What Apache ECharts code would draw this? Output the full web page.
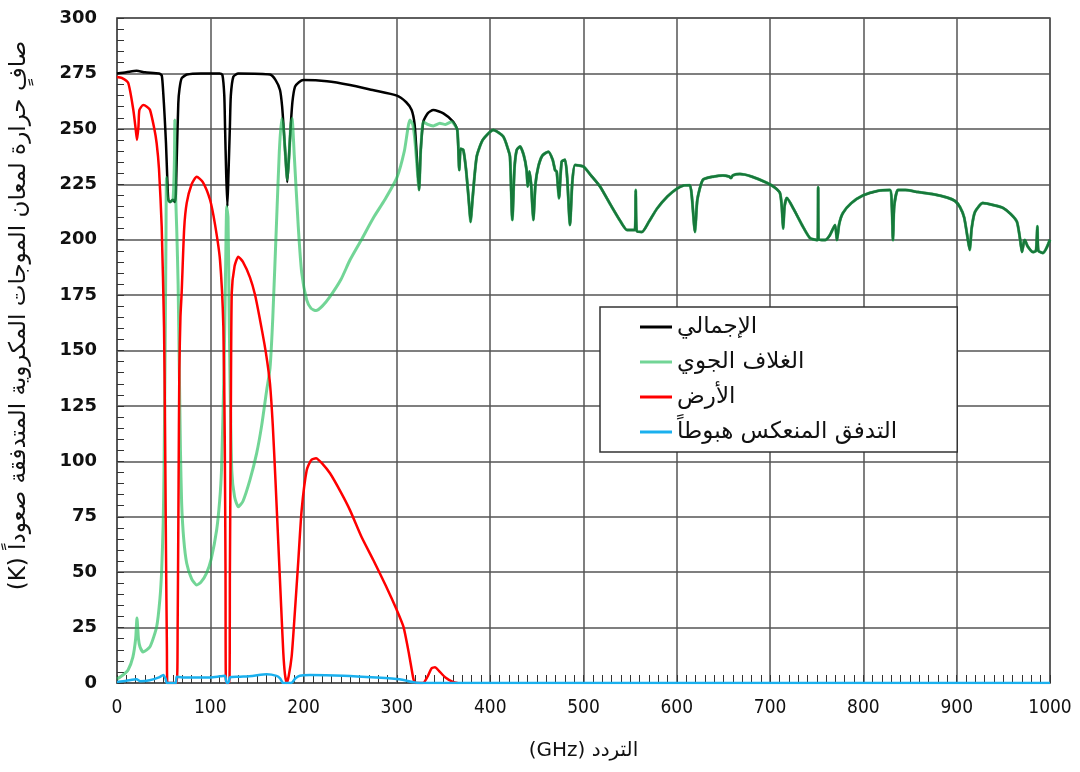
<!DOCTYPE html>
<html>
<head>
<meta charset="utf-8">
<script src="https://cdn.jsdelivr.net/npm/echarts@6/dist/echarts.min.js"></script>
<style>
  html, body { margin: 0; padding: 0; background: #fff; }
  #chart { width: 1080px; height: 772px; }
</style>
</head>
<body>
<div id="chart"></div>
<script>
// values: [GHz, K]
var totalLow = [
  [0,275],[10,275.5],[21,276.2],[30,275.5],[45,275],[48,274],[49.6,266],[51,256],[52.5,243.5],[53.9,227.6],
  [55,218],[57,217],[60,218],[62,217],[63,220],[64,236],[65.7,261.5],[67,268],[69.3,272.8],[75,274.5],
  [90,275],[110,275],[113,274.3],[115,265],[115.8,251],[117,230],[118.3,215],[119.5,230],[121,251],[122,265],
  [124.7,273.5],[130,275],[164,274.5],[170,272],[174.7,267.5],[177,260],[179,248],[181,235],[182.5,226],[184,235],
  [186,250],[188,262],[190.8,269],[195,271],[199.7,272],[225,271.5],[249.7,269.8],[274,267.5],[300,265],[310,262],
  [315.8,258.5],[319,252],[321,240],[323.7,222.4],[325.5,240],[328.3,253.2],[333,257],[339,258.5],[349.8,257],
  [360.4,253.2],[364.7,249.5]
];
var atmosphereLow = [
  [0,1.8],[6.4,3.6],[12,6],[17,11.7],[20,20],[21.4,29.3],[23,20],[24.6,16.4],[28,14],[35.4,16.4],
  [42.5,25.4],[46,38],[47.9,51],[49.5,72],[50.4,96],[51.4,141],[52.5,200],[53,228],[54,219],[57,217],
  [60,218],[61.5,235],[62,254],[62.5,235],[63,218],[64,205],[65.5,180],[66.8,141],[68,105],[69.3,81],
  [71.5,65],[74.7,54],[80,47],[85.4,44.2],[90,45.5],[96,49.6],[101,56],[106.8,69],[110,82],[112,96],
  [114.7,141],[116.5,190],[117.6,215],[118.3,215],[119,210],[120,175],[121,141],[123,96],[126,84],[130,79.5],
  [135,82],[142.5,91.6],[149.7,103.7],[155,116],[160.4,132],[164,142],[167,165],[171,208],[174,240],[176.5,254.7],
  [178.5,250],[180.5,238],[182.5,227],[184.5,238],[186,250],[187.6,254.7],[190,238],[194.3,205.8],[198,185],[203.3,172.8],
  [208,169],[213.3,168],[220,170],[228.3,174.3],[240,182],[249.7,190.8],[262,200],[275,210],[287,218],[300,228],
  [308,240],[314,254],[317,252],[319,246],[321,236],[323.7,222.4],[325.5,240],[328.3,253.2],[333,252],[339,251.3],
  [346,252.5],[352,252],[358.6,253.2],[364.7,249.5]
];
// above ~365 GHz total and atmosphere are the same curve
var sharedHigh = [
  [366.9,231.4],[368.3,241],[371.2,240.4],[374,232],[377,218],[379,208],[381,218],[385.5,237.4],[392,245],[403.3,249.5],
  [414,246.5],[419,241],[421.2,237.4],[423.7,208.9],[426,232],[428.4,240.4],[432,242],[436,238],[439,231.4],[440.2,224],
  [442,230.7],[444,224],[446.2,208.9],[448.5,225],[451.6,233],[456,238],[462.3,239.7],[467,236],[469.5,231.4],[471.3,230.7],
  [473.7,218.7],[476.6,235.2],[480.2,236],[482.5,228],[485.5,206.6],[488,226],[491,233.7],[499.8,233],[508,229],[517.7,224],
  [530,215],[540,208],[546.6,204.4],[555,204.4],[556,222.4],[557,204],[562.7,203.5],[570,208],[578.8,214],[590,219.5],
  [600,223],[608,224.5],[614,224.6],[616,220],[619.5,203.5],[622,218],[628,227],[640,228.5],[649.5,229],[656,228.5],
  [658,227.8],[660,229],[667.7,229.6],[680,228.5],[696.7,225.6],[705,223.5],[710.6,221],[712.5,215],[714,205],[715.5,215],
  [718,218.8],[725,214],[735,206],[742.8,200.7],[751,199.8],[751.5,223.7],[752,200],[759,199.8],[764,202],[769.6,206.6],
  [771.7,199.8],[774,207],[778,212],[787,216.5],[799.6,220],[815,222],[828.5,222.4],[830.5,215],[831.7,199.8],[833,215],
  [837,222.4],[845,222.4],[858.5,221.5],[875,220.5],[889.6,219],[898,217.5],[903.5,214.7],[908,210],[912,200],[914,195.3],
  [916,205],[919.6,212.5],[928,216.5],[940,215.5],[949.6,214.3],[958,211.5],[964.6,208],[968,200],[970,194.4],[972,199],
  [973,199.8],[976,197],[981.8,194.4],[985,195],[986.5,206],[987.5,195],[992.5,194],[996,196],[1000,200]
];
var earth = [
  [0,273.4],[5,273],[12,270.7],[17.5,258.5],[20,250],[21.4,245],[23,251],[24,258.5],[28,260.7],[32,260],
  [35.4,258.5],[40,250],[42.5,243.5],[45,232],[47.9,206],[50.4,160.7],[51.4,120],[52.5,60],[53.5,15],[54,0],
  [64,0],[65,25],[66,90],[66.8,141],[68,165],[69.3,176],[72,205],[74.7,216.5],[80,225],[85.4,228.4],
  [92,226],[99.7,218],[105,207],[110.4,190.8],[114,160.7],[115.5,110],[116.3,50],[116.8,0],[120.4,0],[121,50],
  [122,120],[123,176],[126,188],[130,192.3],[135,190],[142.5,183],[148,175],[153.3,163.8],[158,153],[161,145],
  [164,135],[167,116],[170,90],[173,62],[176,34],[178.2,14],[180,4],[181.9,0],[184,3],[187.2,12],
  [190,28],[194.3,55],[197.9,78],[203.3,96],[208,100.5],[213.3,101.4],[220,99],[228.3,94.6],[240,86],[249.7,78],
  [262,66],[274.7,55.5],[288,44],[299.8,33],[307,25.4],[313,13],[317.6,2],[319.4,0],[328,0],[333,3],
  [337,6.5],[340.8,7.1],[345,5.5],[352,2.5],[360,0.5],[365,0]
];
var reflected = [
  [0,0.5],[10,1],[21,1.7],[25,0.8],[35,1.2],[45,2.5],[49.6,3.6],[52,2],[53.5,0],[63,0],
  [64,2.8],[70,2.5],[85,2.5],[100,2.5],[110,3],[115.7,3.3],[117.5,0],[119.5,0],[121,2.5],[130,2.8],
  [145,3.2],[160.4,3.9],[171,3.2],[175,2],[178,0],[187,0],[191,2],[196,3.3],[207,3.6],[242.5,3.3],
  [278,2.5],[303,1.7],[317.6,0.3],[325,0],[1000,0]
];
var seriesNames = ['الإجمالي', 'الغلاف الجوي', 'الأرض', 'التدفق المنعكس هبوطاً'];
var xName = '(GHz) التردد';
var yName = '(K) صافٍ حرارة لمعان الموجات المكروية المتدفقة صعوداً';

var dom = document.getElementById('chart');
var chart = echarts.init(dom);

function lineSeries(name, data, color, width, z) {
  return {
    name: name,
    type: 'line',
    data: data,
    symbol: 'none',
    smooth: 0.2,
    z: z,
    lineStyle: { color: color, width: width },
    itemStyle: { color: color },
    animation: false
  };
}

var option = {
  backgroundColor: '#fff',
  grid: {
    left: 117, right: 30, top: 18, bottom: 89,
    show: true, borderColor: '#555', borderWidth: 1.5
  },
  legend: {
    orient: 'vertical',
    left: 600, top: 307,
    padding: [5, 60, 5, 40],
    icon: 'rect',
    itemWidth: 32, itemHeight: 3, itemGap: 5,
    borderColor: '#333', borderWidth: 1.5,
    backgroundColor: '#fff',
    textStyle: { fontFamily: 'DejaVu Sans', fontSize: 23, color: '#111', lineHeight: 30 },
    data: seriesNames
  },
  xAxis: {
    type: 'value',
    min: 0, max: 1000, interval: 100,
    name: xName,
    nameLocation: 'middle',
    nameGap: 58,
    nameTextStyle: { fontFamily: 'DejaVu Sans', fontSize: 20, color: '#111' },
    axisLine: { lineStyle: { color: '#555', width: 1.5 } },
    axisTick: { inside: true, length: 8, lineStyle: { color: '#333' } },
    minorTick: { show: true, splitNumber: 10, length: 8, lineStyle: { color: '#333' } },
    axisLabel: {
      margin: 16, fontFamily: 'DejaVu Sans Condensed, Liberation Sans', fontSize: 19, color: '#111',
      formatter: function(v) { return String(v); }
    },
    splitLine: { show: true, lineStyle: { color: '#555', width: 1.5 } }
  },
  yAxis: {
    type: 'value',
    min: 0, max: 300, interval: 25,
    name: yName,
    nameLocation: 'middle',
    nameRotate: 90,
    nameGap: 86,
    nameTextStyle: { fontFamily: 'DejaVu Sans', fontSize: 23, color: '#111', padding: [0, 0, 0, 70] },
    axisLine: { show: true, lineStyle: { color: '#555', width: 1.5 } },
    axisTick: { show: true, inside: true, length: 7, lineStyle: { color: '#333' } },
    minorTick: { show: true, splitNumber: 5, length: 7, lineStyle: { color: '#333' } },
    axisLabel: { margin: 20, fontFamily: 'DejaVu Sans', fontWeight: 'bold', fontSize: 18, color: '#111' },
    splitLine: { show: true, lineStyle: { color: '#555', width: 1.5 } }
  },
  series: [
    lineSeries(seriesNames[0], totalLow.concat(sharedHigh), '#000000', 2.5, 2),
    lineSeries(seriesNames[1], atmosphereLow.concat(sharedHigh), 'rgba(34,190,90,0.64)', 3, 3),
    lineSeries(seriesNames[2], earth, '#ff0000', 2.5, 4),
    lineSeries(seriesNames[3], reflected, '#1ab0ee', 2.5, 5)
  ]
};
chart.setOption(option);
</script>
</body>
</html>
